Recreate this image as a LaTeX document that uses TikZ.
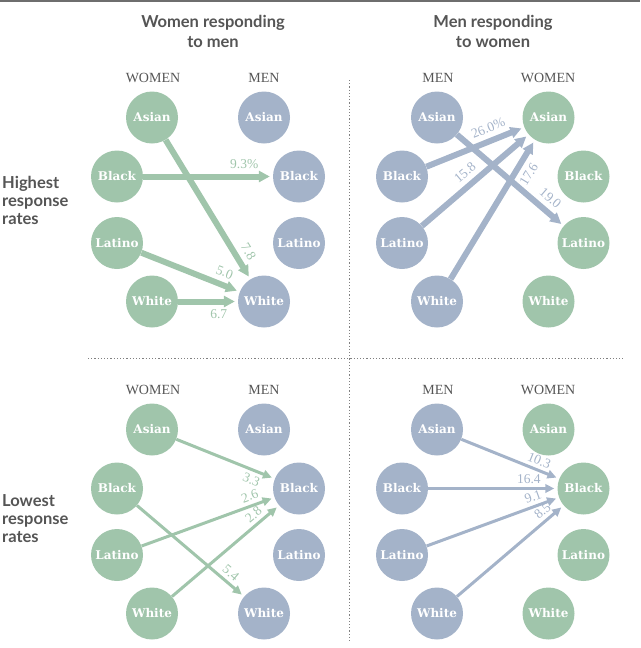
\documentclass[tikz,border=0pt]{standalone}
\usepackage{fontspec}
\setmainfont{Liberation Serif}
\newfontfamily\headfont{Lato}
\newfontfamily\circfont{DejaVu Serif}
\usetikzlibrary{arrows.meta}
\definecolor{wgreen}{RGB}{160,197,171}
\definecolor{mblue}{RGB}{164,179,201}
\definecolor{inkgray}{RGB}{85,85,85}
\begin{document}
\begin{tikzpicture}[x=1pt,y=-1pt,line join=round,
  wnode/.style={circle,fill=wgreen,minimum size=52pt,inner sep=0pt,text=white,
    font=\circfont\bfseries\fontsize{12}{12}\selectfont},
  mnode/.style={wnode,fill=mblue},
  wthick/.style={wgreen,line width=6pt,-{Triangle[length=11pt,width=11pt]},shorten >=3pt},
  mthick/.style={wthick,mblue},
  wthin/.style={wgreen,line width=3pt,-{Triangle[length=9pt,width=8.5pt]},shorten >=3pt},
  mthin/.style={wthin,mblue},
  num/.style={font=\fontsize{13.5}{14}\selectfont,inner sep=1.5pt,sloped},
  colhead/.style={text=inkgray,font=\fontsize{14}{14}\selectfont},
  head/.style={text=inkgray,font=\headfont\bfseries\fontsize{16.5}{20}\selectfont,align=center},
  rowhead/.style={text=inkgray,font=\headfont\bfseries\fontsize{16.5}{18}\selectfont,
    align=left,anchor=west,inner sep=0pt},
  sep/.style={draw=gray,line width=1pt,dash pattern=on 1.2pt off 2pt}]
  \useasboundingbox (0,0) rectangle (640,648);
  \draw[inkgray!85,line width=2pt] (0,1)--(640,1);
  \node[head] (titleL) at (213,31) {Women responding\\to men};
  \node[head] (titleR) at (493,31) {Men responding\\to women};
  \node[rowhead] (rowHi) at (2,200.5) {Highest\\response\\rates};
  \node[rowhead] (rowLo) at (2,518.3) {Lowest\\response\\rates};
  \draw[sep] (349.3,80)--(349.3,642);
  \draw[sep] (88,358.3)--(623,358.3);
  \foreach \p/\dy in {h/0,l/312}{
    \node[colhead] (\p colLW) at (153,78+\dy) {WOMEN};
    \node[colhead] (\p colLM) at (264,78+\dy) {MEN};
    \node[colhead] (\p colRM) at (438,78+\dy) {MEN};
    \node[colhead] (\p colRW) at (548,78+\dy) {WOMEN};
    \foreach \g/\y/\dx in {Asian/117.5/0,Black/176.5/35,Latino/243/35,White/301.5/0}{
      \node[wnode] (\p LW\g) at (152-\dx,\y+\dy) {\g};
      \node[mnode] (\p LM\g) at (264+\dx,\y+\dy) {\g};
      \node[mnode] (\p RM\g) at (437-\dx,\y+\dy) {\g};
      \node[wnode] (\p RW\g) at (548.5+\dx,\y+\dy) {\g};
    }
  }
  \draw[wthick] (hLWAsian) -- (hLMWhite) node[num,pos=.85,above=3.5pt]{7.8};
  \draw[wthick] (hLWBlack) -- (hLMBlack) node[num,pos=.78,above=3.5pt]{9.3\%};
  \draw[wthick] (hLWLatino) -- (hLMWhite) node[num,pos=.80,above=3.5pt]{5.0};
  \draw[wthick] (hLWWhite) -- (hLMWhite) node[num,pos=.68,below=3.5pt]{6.7};
  \draw[mthick] (hRMBlack) -- (hRWAsian) node[num,pos=.68,above=3.5pt]{26.0\%};
  \draw[mthick] (hRMLatino) -- (hRWAsian) node[num,pos=.48,above=3.5pt]{15.8};
  \draw[mthick] (hRMWhite) -- (hRWAsian) node[num,pos=.80,below=3.5pt]{17.6};
  \draw[mthick] (hRMAsian) -- (hRWLatino) node[num,pos=.80,above=3.5pt]{19.0};
  \draw[wthin] (lLWAsian) -- (lLMBlack) node[num,pos=.80,below=2pt]{3.3};
  \draw[wthin] (lLWLatino) -- (lLMBlack) node[num,pos=.84,above=2pt]{2.6};
  \draw[wthin] (lLWWhite) -- (lLMBlack) node[num,pos=.82,above=2pt]{2.8};
  \draw[wthin] (lLWBlack) -- (lLMWhite) node[num,pos=.82,above=2pt]{5.4};
  \draw[mthin] (lRMAsian) -- (lRWBlack) node[num,pos=.76,above=2pt]{10.3};
  \draw[mthin] (lRMBlack) -- (lRWBlack) node[num,pos=.78,above=2pt]{16.4};
  \draw[mthin] (lRMLatino) -- (lRWBlack) node[num,pos=.83,above=2pt]{9.1};
  \draw[mthin] (lRMWhite) -- (lRWBlack) node[num,pos=.86,above=2pt]{8.5};
\end{tikzpicture}
\end{document}
